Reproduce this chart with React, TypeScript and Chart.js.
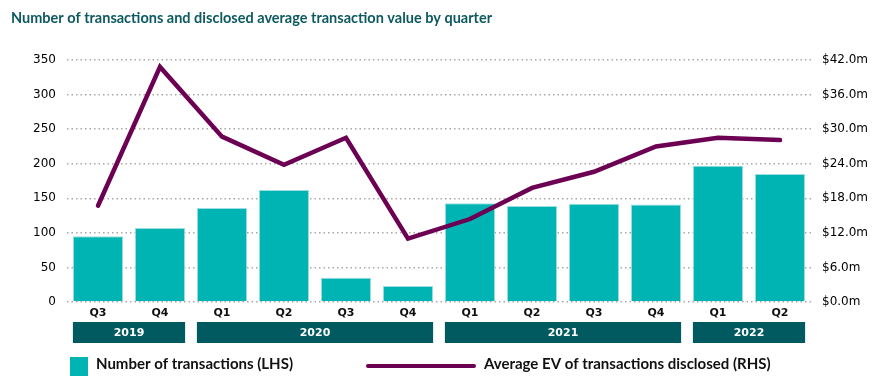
import React, { useEffect, useRef } from "react";
import { Chart, registerables } from "chart.js";

Chart.register(...registerables);

const TITLE = "Number of transactions and disclosed average transaction value by quarter";
const quarters = ["Q3", "Q4", "Q1", "Q2", "Q3", "Q4", "Q1", "Q2", "Q3", "Q4", "Q1", "Q2"];
const years = ["2019", "2020", "2021", "2022"];
const yearStart = [0, 2, 6, 10];
const yearEnd = [1, 5, 9, 11];
const transactions = [95, 107, 136, 162, 35, 23, 143, 139, 142, 141, 197, 185];
const avgEV = [16.7, 40.8, 28.7, 23.8, 28.5, 11.0, 14.4, 19.8, 22.6, 27.0, 28.5, 28.1];
const barLabel = "Number of transactions (LHS)";
const lineLabel = "Average EV of transactions disclosed (RHS)";

const TEAL = "#00b4b4";
const DARK = "#005a5f";
const PURPLE = "#6c0052";
const BAR_PCT = 0.81;

const overlay = {
  id: "overlay",
  afterDraw(chart: any) {
    const ctx = chart.ctx;
    const x = chart.scales.x;
    ctx.save();
    // title
    ctx.font = "bold 14.5px Lato";
    ctx.fillStyle = "#0c5a5f";
    ctx.textBaseline = "middle";
    ctx.textAlign = "left";
    ctx.fillText(TITLE, 11, 18);
    // year boxes
    const step = x.getPixelForValue(1) - x.getPixelForValue(0);
    const half = (step * BAR_PCT) / 2;
    years.forEach((yr, i) => {
      const l = x.getPixelForValue(yearStart[i]) - half;
      const r = x.getPixelForValue(yearEnd[i]) + half;
      ctx.fillStyle = DARK;
      ctx.fillRect(l, 322, r - l, 21);
      ctx.fillStyle = "#ffffff";
      ctx.font = "bold 11px 'DejaVu Sans'";
      ctx.textAlign = "center";
      ctx.fillText(yr, (l + r) / 2, 333);
    });
    // legend
    ctx.fillStyle = TEAL;
    ctx.fillRect(70, 357, 18, 19);
    ctx.textAlign = "left";
    ctx.fillStyle = "#111";
    ctx.font = "bold 15px Lato";
    ctx.fillText(barLabel, 96, 364);
    ctx.strokeStyle = PURPLE;
    ctx.lineWidth = 4;
    ctx.lineCap = "round";
    ctx.beginPath();
    ctx.moveTo(368, 366);
    ctx.lineTo(474, 366);
    ctx.stroke();
    ctx.fillText(lineLabel, 484, 364);
    ctx.restore();
  },
};

export default function App() {
  const ref = useRef<HTMLCanvasElement>(null);
  useEffect(() => {
    const chart = new Chart(ref.current as HTMLCanvasElement, {
      type: "bar",
      data: {
        labels: quarters,
        datasets: [
          {
            type: "line",
            label: lineLabel,
            data: avgEV,
            yAxisID: "y1",
            borderColor: PURPLE,
            borderWidth: 4.5,
            borderCapStyle: "round",
            borderJoinStyle: "miter",
            pointRadius: 0,
            tension: 0,
            order: 0,
          } as any,
          {
            type: "bar",
            label: barLabel,
            data: transactions,
            yAxisID: "y",
            backgroundColor: TEAL,
            borderColor: "#9fdede",
            borderWidth: 1,
            barPercentage: BAR_PCT,
            categoryPercentage: 1,
            order: 1,
          },
        ],
      },
      options: {
        responsive: false,
        animation: false,
        layout: { padding: { top: 60, bottom: 59, left: 0, right: 0 } },
        plugins: { legend: { display: false }, title: { display: false }, tooltip: { enabled: false } },
        scales: {
          x: {
            grid: { display: false, drawTicks: false },
            border: { display: false },
            ticks: { color: "#111", font: { family: "DejaVu Sans", size: 11, weight: "bold" }, padding: 5 },
            afterFit: (s: any) => { s.height = 20; },
          },
          y: {
            position: "left",
            min: 0,
            max: 350,
            ticks: { stepSize: 50, color: "#000", font: { family: "DejaVu Sans", size: 12 }, padding: 11 },
            grid: { color: "#a8a8a8", lineWidth: 1.5, drawTicks: false },
            border: { display: false, dash: [1.5, 3] },
            afterFit: (s: any) => { s.width = 67; },
          },
          y1: {
            position: "right",
            min: 0,
            max: 42,
            ticks: {
              stepSize: 6,
              color: "#000",
              font: { family: "DejaVu Sans", size: 12 },
              padding: 11,
              callback: (v: any) => "$" + Number(v).toFixed(1) + "m",
            },
            grid: { drawOnChartArea: false, drawTicks: false },
            border: { display: false },
            afterFit: (s: any) => { s.width = 85; },
          },
        },
      } as any,
      plugins: [overlay],
    });
    return () => chart.destroy();
  }, []);
  return (
    <div style={{ position: "fixed", left: 0, top: 0, width: 896, height: 381, background: "#fff" }}>
      <canvas ref={ref} width={896} height={381} style={{ display: "block" }} />
    </div>
  );
}
